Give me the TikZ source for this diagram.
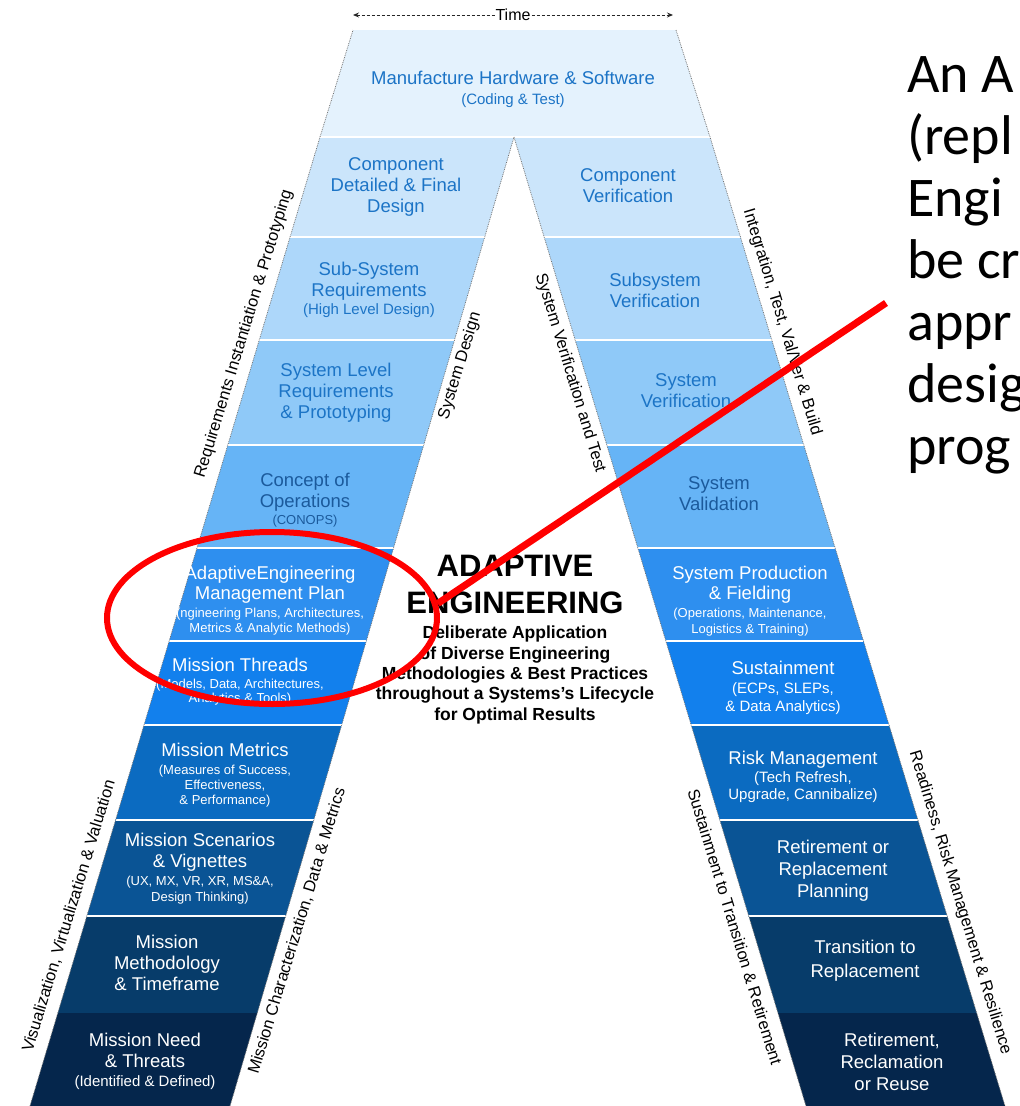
\documentclass[tikz,border=0pt]{standalone}
\usepackage{fontspec}
\setmainfont{Liberation Sans}
\newfontfamily\calibrifont{Carlito}
\usepackage{tikz}
\usetikzlibrary{arrows.meta, calc, shapes.geometric}

% band colours, light (top) to dark (bottom)
\definecolor{bandA}{HTML}{E4F2FD}
\definecolor{bandB}{HTML}{CBE5FB}
\definecolor{bandC}{HTML}{ADD7FA}
\definecolor{bandD}{HTML}{8FC9F8}
\definecolor{bandE}{HTML}{66B4F6}
\definecolor{bandF}{HTML}{2E8FEF}
\definecolor{bandG}{HTML}{1280ED}
\definecolor{bandH}{HTML}{0B6BC1}
\definecolor{bandI}{HTML}{0A5495}
\definecolor{bandJ}{HTML}{073C6A}
\definecolor{bandK}{HTML}{05264C}
\definecolor{stagetext}{HTML}{1C74C6}
\definecolor{stagedark}{HTML}{1B5A9C}
\definecolor{markred}{HTML}{FF0000}

\newcommand{\subnote}[1]{{\fontsize{13}{15}\selectfont #1}}
\newcommand{\midnote}[1]{{\fontsize{15}{17}\selectfont #1}}

\begin{document}
\begin{tikzpicture}[
    x=1pt, y=-1pt,
    stage/.style={align=center, font=\fontsize{18.5}{21}\selectfont, text=stagetext, inner sep=0pt},
    darkstage/.style={stage, text=stagedark},
    whitestage/.style={stage, text=white},
    sidelabel/.style={font=\fontsize{16.5}{19}\selectfont, inner sep=0pt},
    edge/.style={densely dotted, black!55, line width=0.8pt},
    divider/.style={white, line width=1.6pt}
]
\useasboundingbox (0,0) rectangle (1020,1106);
\clip (0,0) rectangle (1020,1106);

% corners of the A
\coordinate (top left) at (353,30);
\coordinate (top right) at (676,30);
\coordinate (lo top) at (320,137);
\coordinate (lo bot) at (30,1106);
\coordinate (li top) at (514,137);
\coordinate (li bot) at (230,1106);
\coordinate (ri top) at (514,137);
\coordinate (ri bot) at (806,1106);
\coordinate (ro top) at (710,137);
\coordinate (ro bot) at (1005,1106);

% top band
\fill[bandA] (top left) -- (top right) -- (ro top) -- (lo top) -- cycle;

% both legs
\foreach \ya/\yb/\col in {137/237/bandB, 237/340/bandC, 340/445/bandD, 445/548/bandE,
    548/641/bandF, 641/725/bandG, 725/820/bandH, 820/916/bandI, 916/1013/bandJ, 1013/1106/bandK} {
  \pgfmathsetmacro{\ta}{(\ya-137)/969}
  \pgfmathsetmacro{\tb}{(\yb-137)/969}
  \fill[\col] ($(lo top)!\ta!(lo bot)$) -- ($(li top)!\ta!(li bot)$)
      -- ($(li top)!\tb!(li bot)$) -- ($(lo top)!\tb!(lo bot)$) -- cycle;
  \fill[\col] ($(ri top)!\ta!(ri bot)$) -- ($(ro top)!\ta!(ro bot)$)
      -- ($(ro top)!\tb!(ro bot)$) -- ($(ri top)!\tb!(ri bot)$) -- cycle;
}

% white lines between the stages
\draw[divider] (lo top) -- (ro top);
\foreach \yy in {237,340,445,548,641,725,820,916} {
  \pgfmathsetmacro{\tt}{(\yy-137)/969}
  \draw[divider] ($(lo top)!\tt!(lo bot)$) -- ($(li top)!\tt!(li bot)$);
  \draw[divider] ($(ri top)!\tt!(ri bot)$) -- ($(ro top)!\tt!(ro bot)$);
}

% slanted edges
\draw[edge] (lo bot) -- (lo top) -- (top left);
\draw[edge] (li bot) -- (li top) -- (ri bot);
\draw[edge] (top right) -- (ro top) -- (ro bot);

% time axis
\coordinate (time start) at (353,15);
\coordinate (time end) at (673,15);
\draw[densely dashed, black!85, line width=0.9pt, {Stealth[length=6pt,width=5pt]}-{Stealth[length=6pt,width=5pt]}]
    (time start) -- node[fill=white, inner sep=1pt, text=black, font=\fontsize{16}{18}\selectfont] (time) {Time} (time end);

% top of the A
\node[stage] (manufacture) at (513,89) {Manufacture Hardware \& Software\\[-1pt]\midnote{(Coding \& Test)}};

% left leg
\node[stage] (component design) at (396,187) {Component\\Detailed \& Final\\Design};
\node[stage] (subsystem req) at (369,290) {Sub-System\\Requirements\\[-3pt]\midnote{(High Level Design)}};
\node[stage] (system req) at (336,393) {System Level\\Requirements\\\& Prototyping};
\node[darkstage] (conops) at (305,500) {Concept of\\Operations\\[-4pt]\subnote{(CONOPS)}};
\node[whitestage] (management plan) at (270,601) {AdaptiveEngineering\\[-1pt]Management Plan\\[-3pt]\subnote{(ngineering Plans, Architectures,}\\[-6pt]\subnote{Metrics \& Analytic Methods)}};
\node[whitestage] (threads) at (240,682) {Mission Threads\\[-4pt]\subnote{(Models, Data, Architectures,}\\[-7pt]\subnote{Analytics \& Tools)}};
\node[whitestage] (metrics) at (225,775) {Mission Metrics\\[-3pt]\subnote{(Measures of Success,}\\[-6pt]\subnote{Effectiveness,}\\[-6pt]\subnote{\& Performance)}};
\node[whitestage] (scenarios) at (200,869) {Mission Scenarios\\\& Vignettes\\[-3pt]\subnote{(UX, MX, VR, XR, MS\&A,}\\[-5pt]\subnote{Design Thinking)}};
\node[whitestage] (methodology) at (167,963) {Mission\\Methodology\\\& Timeframe};
\node[whitestage] (need) at (145,1061) {Mission Need\\\& Threats\\[-2pt]\midnote{(Identified \& Defined)}};

% right leg
\node[stage] (component verif) at (628,186) {Component\\Verification};
\node[stage] (subsystem verif) at (655,290) {Subsystem\\Verification};
\node[stage] (system verif) at (686,391) {System\\Verification};
\node[darkstage] (validation) at (719,494) {System\\Validation};
\node[whitestage] (production) at (750,601) {System Production\\[-1pt]\& Fielding\\[-3pt]\subnote{(Operations, Maintenance,}\\[-5pt]\subnote{Logistics \& Training)}};
\node[whitestage] (sustainment) at (783,688) {Sustainment\\[-2pt]\midnote{(ECPs, SLEPs,}\\[-3pt]\midnote{\& Data Analytics)}};
\node[whitestage] (risk) at (803,777) {Risk Management\\[-3pt]\midnote{(Tech Refresh,}\\[-4pt]\midnote{Upgrade, Cannibalize)}};
\node[whitestage] (retire plan) at (833,871) {Retirement or\\[1pt]Replacement\\[1pt]Planning};
\node[whitestage] (transition) at (865,961) {Transition to\\[3pt]Replacement};
\node[whitestage] (reclamation) at (892,1062) {Retirement,\\[1pt]Reclamation\\[1pt]or Reuse};

% labels along the edges
\node[sidelabel, rotate=73] (req label) at (244,334) {Requirements Instantiation \& Prototyping};
\node[sidelabel, rotate=73] (design label) at (460,366) {System Design};
\node[sidelabel, rotate=-73] (verif label) at (570,373) {System Verification and Test};
\node[sidelabel, rotate=-73] (integ label) at (782,322) {Integration, Test, Val/Ver \& Build};
\node[sidelabel, rotate=73] (vis label) at (69,916) {Visualization, Virtualization \& Valuation};
\node[sidelabel, rotate=73] (mission label) at (297,931) {Mission Characterization, Data \& Metrics};
\node[sidelabel, rotate=-73] (sustain label) at (735,927) {Sustainment to Transition \& Retirement};
\node[sidelabel, rotate=-73] (readiness label) at (960,903) {Readiness, Risk Management \& Resilience};

% centre title
\node[font=\bfseries\fontsize{31}{37}\selectfont, align=center, inner sep=0pt] (title) at (515,584) {ADAPTIVE\\ENGINEERING};
\node[font=\bfseries\fontsize{17.5}{20.3}\selectfont, align=center, inner sep=0pt] (subtitle) at (515,675)
    {Deliberate Application\\of Diverse Engineering\\Methodologies \& Best Practices\\throughout a Systems{\char"0027}s Lifecycle\\for Optimal Results};

% red call-out
\node[ellipse, draw=markred, line width=6pt, minimum width=330pt, minimum height=172pt, inner sep=0pt] (ring) at (272,618) {};
\coordinate (callout tip) at (886,303);
\draw[markred, line width=7pt] (callout tip) -- (ring.5);
\node[font=\calibrifont\fontsize{56}{62}\selectfont, align=left, anchor=north west, inner sep=0pt] (callout text) at (907,56)
    {An A\\(repl\\Engi\\be cr\\appr\\desig\\prog};
\end{tikzpicture}
\end{document}
